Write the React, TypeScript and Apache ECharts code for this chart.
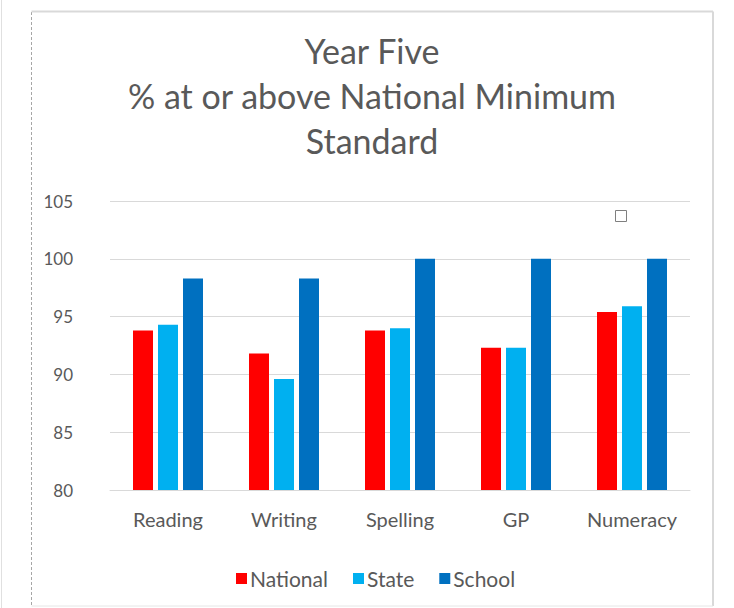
import React, { useEffect, useRef } from "react";
import * as echarts from "echarts";

const categories = ["Reading", "Writing", "Spelling", "GP", "Numeracy"];
const national = [93.8, 91.8, 93.8, 92.3, 95.4];
const state = [94.3, 89.6, 94.0, 92.3, 95.9];
const school = [98.3, 98.3, 100, 100, 100];
const seriesNames = ["National", "State", "School"];
const titleLines = ["Year Five", "% at or above National Minimum", "Standard"];

const FONT = "Lato, 'Noto Sans', sans-serif";
const TXT = "#595959";

export default function App() {
  const ref = useRef<HTMLDivElement>(null);
  useEffect(() => {
    if (!ref.current) return;
    const chart = echarts.init(ref.current, null, { renderer: "svg" });
    chart.setOption({
      animation: false,
      backgroundColor: "#ffffff",
      textStyle: { fontFamily: FONT },
      grid: { left: 110, right: 44, top: 201, bottom: 118, containLabel: false },
      legend: {
        data: seriesNames,
        left: 231,
        top: 563,
        icon: "rect",
        itemWidth: 11,
        itemHeight: 11,
        itemGap: 25,
        textStyle: { color: TXT, fontSize: 21, fontFamily: FONT, padding: [0, 0, 0, -2] },
      },
      xAxis: {
        type: "category",
        data: categories,
        axisTick: { show: false },
        axisLine: { lineStyle: { color: "#d9d9d9" } },
        axisLabel: { color: TXT, fontSize: 20, margin: 19, interval: 0, fontFamily: FONT },
      },
      yAxis: {
        type: "value",
        min: 80,
        max: 105,
        interval: 5,
        axisLine: { show: false },
        axisTick: { show: false },
        splitLine: { lineStyle: { color: "#d9d9d9" } },
        axisLabel: { color: TXT, fontSize: 17, margin: 37, fontFamily: FONT },
      },
      series: [
        { name: seriesNames[0], type: "bar", data: national, barWidth: 20, barGap: "25%", itemStyle: { color: "#ff0000" } },
        { name: seriesNames[1], type: "bar", data: state, barWidth: 20, barGap: "25%", itemStyle: { color: "#00b0f0" } },
        { name: seriesNames[2], type: "bar", data: school, barWidth: 20, barGap: "25%", itemStyle: { color: "#0070c0" } },
      ],
      graphic: [
        {
          type: "text",
          x: 372,
          y: 28,
          style: {
            text: titleLines.join("\n"),
            textAlign: "center",
            fontSize: 34,
            lineHeight: 45,
            fill: TXT,
            fontFamily: FONT,
          },
        },
        { type: "line", shape: { x1: 31.5, y1: 12, x2: 31.5, y2: 606 }, style: { stroke: "#a6a6a6", lineWidth: 1, lineDash: [3, 2] } },
        { type: "line", shape: { x1: 31.5, y1: 11.5, x2: 713, y2: 11.5 }, style: { stroke: "#d9d9d9", lineWidth: 2 } },
        { type: "line", shape: { x1: 713, y1: 11.5, x2: 713, y2: 606 }, style: { stroke: "#d9d9d9", lineWidth: 2 } },
        { type: "line", shape: { x1: 31.5, y1: 606, x2: 713, y2: 606 }, style: { stroke: "#e6e6e6", lineWidth: 1 } },
        { type: "line", shape: { x1: 1.5, y1: 0, x2: 1.5, y2: 608 }, style: { stroke: "#e0e0e0", lineWidth: 1 } },
        { type: "rect", shape: { x: 615.5, y: 210.5, width: 11, height: 11 }, style: { fill: "#ffffff", stroke: "#7f7f7f", lineWidth: 1 } },
      ],
    });
    return () => chart.dispose();
  }, []);
  return (
    <div
      ref={ref}
      style={{ position: "absolute", left: 0, top: 0, width: 734, height: 608 }}
    />
  );
}
